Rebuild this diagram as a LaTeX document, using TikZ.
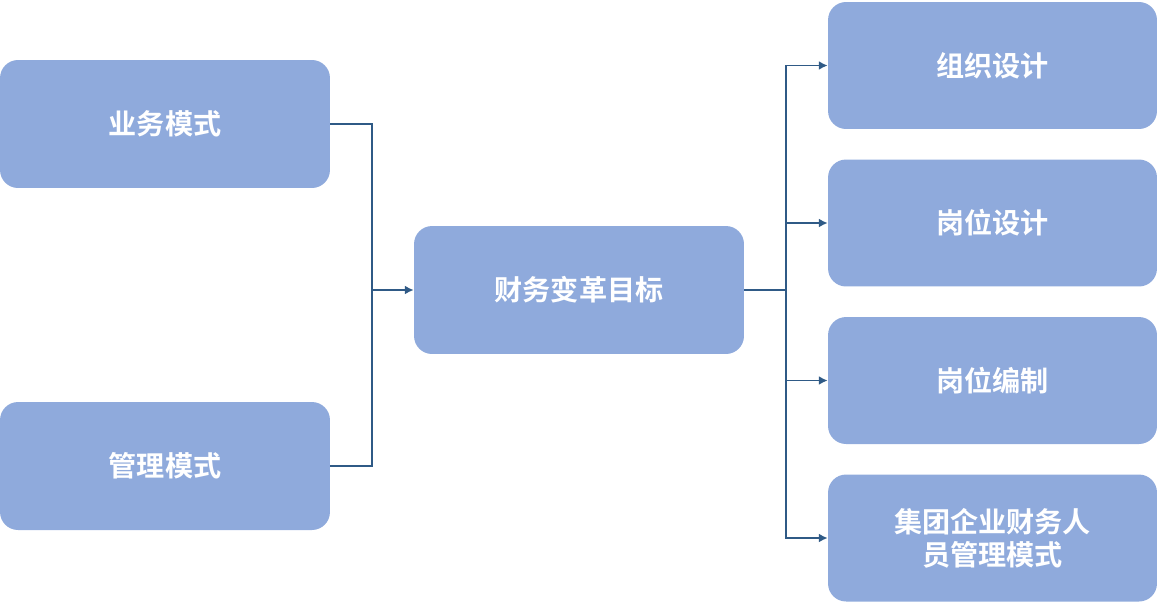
\documentclass[tikz,border=0pt]{standalone}
\usepackage{fontspec}
\usetikzlibrary{arrows.meta}
\newfontfamily\cjk{Noto Sans CJK SC Bold}
\definecolor{boxc}{HTML}{8FAADC}
\definecolor{linec}{HTML}{2F5A86}
\begin{document}
\begin{tikzpicture}[x=0.02cm,y=-0.02cm,
  bx/.style={fill=boxc,draw=none,rounded corners=0.36cm,minimum width=6.6cm,minimum height=2.56cm,text=white,font=\cjk\fontsize{16}{19}\selectfont,align=center,inner sep=0pt},
  ln/.style={draw=linec,line width=0.9pt},
  ar/.style={ln,-{Latex[length=5pt,width=5pt]}}]
\useasboundingbox (0,0) rectangle (1158,606);
\node[bx] (a) at (165,124) {业务模式};
\node[bx] (b) at (165,466) {管理模式};
\node[bx] (c) at (579,290) {财务变革目标};
\node[bx,minimum width=6.58cm,minimum height=2.54cm] (r1) at (992.5,65.5) {组织设计};
\node[bx,minimum width=6.58cm,minimum height=2.54cm] (r2) at (992.5,223) {岗位设计};
\node[bx,minimum width=6.58cm,minimum height=2.54cm] (r3) at (992.5,380.5) {岗位编制};
\node[bx,minimum width=6.58cm,minimum height=2.54cm] (r4) at (992.5,538) {集团企业财务人\\员管理模式};
\coordinate (jl) at (372,290);
\coordinate (jr) at (786,290);
\draw[ln] (a.east) -| (jl);
\draw[ln] (b.east) -| (jl);
\draw[ar] (jl) -- (c.west);
\draw[ln] (c.east) -- (jr);
\foreach \r in {r1,r2,r3,r4}{\draw[ar] (jr) |- (\r.west);}
\end{tikzpicture}
\end{document}
